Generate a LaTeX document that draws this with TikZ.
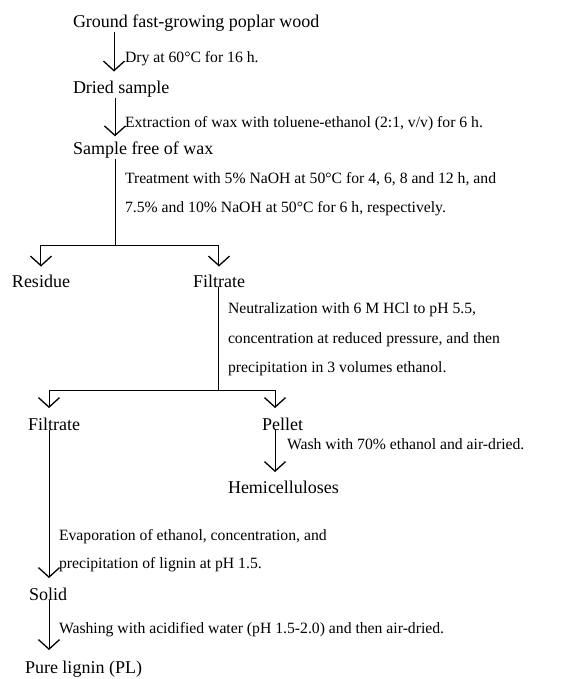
\documentclass[tikz,border=0pt]{standalone}
\usepackage{fontspec}
\setmainfont{Liberation Serif}
\usetikzlibrary{arrows.meta}
\begin{document}
\begin{tikzpicture}[x=1pt,y=-1pt,
  main/.style={font=\fontsize{18}{20}\selectfont, inner sep=0pt, outer sep=0pt, anchor=base west},
  note/.style={font=\fontsize{15.7}{17}\selectfont, inner sep=0pt, outer sep=0pt, anchor=base west},
  link/.style={line width=1pt},
  arr/.style={line width=1pt, -{Straight Barb[length=9.5pt,width=21pt,line width=1.3pt]}}]
\useasboundingbox (0,0) rectangle (566,679);
% helper x positions
\coordinate (x1) at (114,0);
\coordinate (x2) at (115,0);
\coordinate (j1) at (115,245);
\coordinate (j2) at (218,390);
\coordinate (xa) at (49,0);
\coordinate (xb) at (275,0);
% nodes
\node[main] (ground) at (73,28) {Ground fast-growing poplar wood};
\node[note] (n1) at (125,63) {Dry at 60°C for 16 h.};
\node[main] (dried) at (73,94) {Dried sample};
\node[note] (n2) at (125,128) {Extraction of wax with toluene-ethanol (2:1, v/v) for 6 h.};
\node[main] (free) at (73,155) {Sample free of wax};
\node[note] (n3a) at (125,183) {Treatment with 5\% NaOH at 50°C for 4, 6, 8 and 12 h, and};
\node[note] (n3b) at (125,212) {7.5\% and 10\% NaOH at 50°C for 6 h, respectively.};
\node[main] (residue) at (12,287) {Residue};
\node[main] (filt1) at (193,287) {Filtrate};
\node[note] (n4a) at (228,313) {Neutralization with 6 M HCl to pH 5.5,};
\node[note] (n4b) at (228,343) {concentration at reduced pressure, and then};
\node[note] (n4c) at (228,372) {precipitation in 3 volumes ethanol.};
\node[main] (filt2) at (28,430) {Filtrate};
\node[main] (pellet) at (262,430) {Pellet};
\node[note] (n5) at (287,449) {Wash with 70\% ethanol and air-dried.};
\node[main] (hemi) at (228,493) {Hemicelluloses};
\node[note] (n6a) at (59,540) {Evaporation of ethanol, concentration, and};
\node[note] (n6b) at (59,568) {precipitation of lignin at pH 1.5.};
\node[main] (solid) at (29,600) {Solid};
\node[note] (n7) at (59,633) {Washing with acidified water (pH 1.5-2.0) and then air-dried.};
\node[main] (pure) at (25,673) {Pure lignin (PL)};
% connectors
\draw[arr, shorten >=10pt] (ground.south -| x1) -- (dried.north -| x1);
\draw[arr, shorten >=6pt] (dried.south -| x2) -- (free.north -| x2);
\draw[link] (free.south -| j1) -- (j1);
\draw[arr, shorten >=8pt] (j1) -| (residue.north);
\draw[arr, shorten >=8pt] (j1) -| (filt1.north);
\draw[link] (filt1.south -| j2) -- (j2);
\draw[arr, shorten >=9.5pt] (j2) -| (filt2.north -| xa);
\draw[arr, shorten >=9.5pt] (j2) -| (pellet.north -| xb);
\draw[arr, shorten >=8.5pt] (pellet.south -| xb) -- (hemi.north -| xb);
\draw[arr, shorten >=9.5pt] (filt2.south -| xa) -- (solid.north -| xa);
\draw[arr, shorten >=10.5pt] (solid.south -| xa) -- (pure.north -| xa);
\end{tikzpicture}
\end{document}
